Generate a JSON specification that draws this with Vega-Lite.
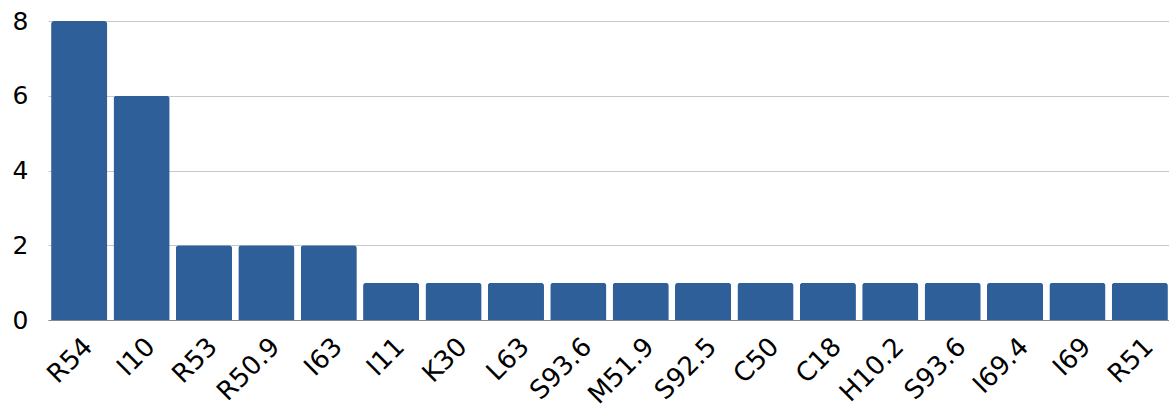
{
  "$schema": "https://vega.github.io/schema/vega-lite/v6.json",
  "width": 1123,
  "height": 299,
  "autosize": {"type": "none"},
  "padding": {"left": 48, "top": 21, "right": 0, "bottom": 91},
  "background": "white",
  "config": {"view": {"stroke": null}, "font": "DejaVu Sans"},
  "data": {
    "values": [
      {"code": "R54", "count": 8},
      {"code": "I10", "count": 6},
      {"code": "R53", "count": 2},
      {"code": "R50.9", "count": 2},
      {"code": "I63", "count": 2},
      {"code": "I11", "count": 1},
      {"code": "K30", "count": 1},
      {"code": "L63", "count": 1},
      {"code": "S93.6", "count": 1},
      {"code": "M51.9", "count": 1},
      {"code": "S92.5", "count": 1},
      {"code": "C50", "count": 1},
      {"code": "C18", "count": 1},
      {"code": "H10.2", "count": 1},
      {"code": "S93.6\u200b", "count": 1},
      {"code": "I69.4", "count": 1},
      {"code": "I69", "count": 1},
      {"code": "R51", "count": 1}
    ]
  },
  "mark": {"type": "bar", "color": "#2E5F99", "cornerRadiusTopLeft": 3, "cornerRadiusTopRight": 3},
  "encoding": {
    "x": {
      "field": "code", "type": "nominal", "sort": null,
      "scale": {"paddingInner": 0.1, "paddingOuter": 0.05},
      "axis": {"title": null, "labelAngle": -45, "labelFontSize": 26, "labelColor": "#000", "ticks": false, "domain": true, "domainColor": "#888", "labelPadding": 13, "grid": false, "labelOverlap": false}
    },
    "y": {
      "field": "count", "type": "quantitative",
      "scale": {"domain": [0, 8]},
      "axis": {"title": null, "values": [0, 2, 4, 6, 8], "labelFontSize": 25, "labelColor": "#000", "ticks": false, "domain": false, "gridColor": "#c8c8c8", "labelPadding": 20}
    }
  }
}
